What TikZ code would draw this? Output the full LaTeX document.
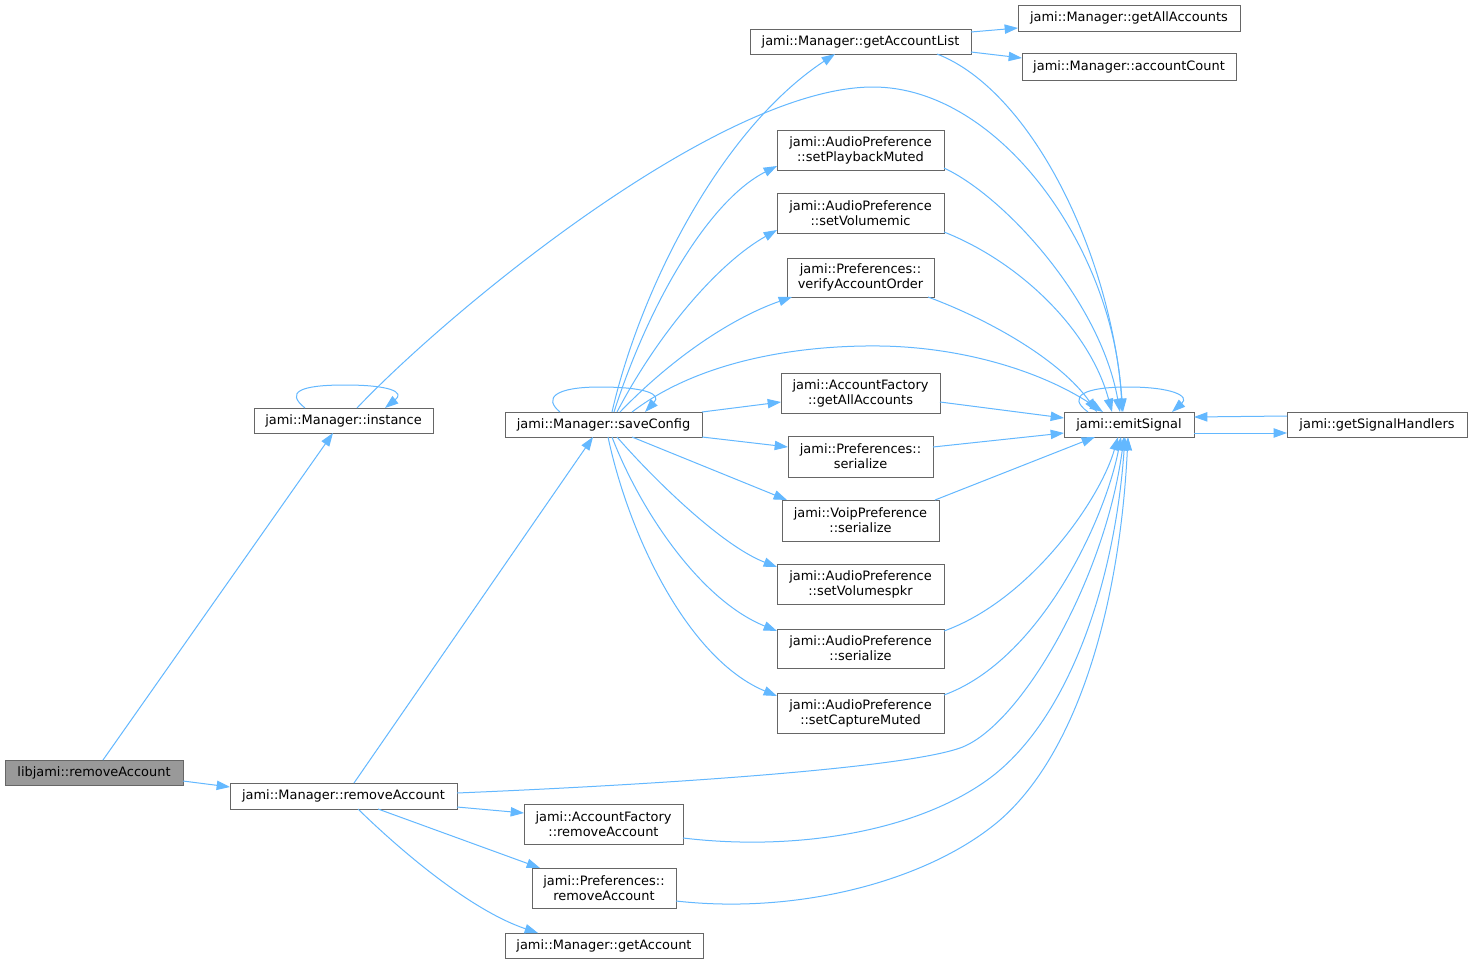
\documentclass[tikz,border=0pt]{standalone}
\usepackage{fontspec}
\setmainfont{DejaVu Sans}
\usetikzlibrary{arrows.meta}
\definecolor{edgec}{HTML}{63B8FF}
\definecolor{bordc}{HTML}{666666}
\definecolor{rootc}{HTML}{999999}
\begin{document}
\begin{tikzpicture}[x=0.75pt,y=-0.75pt,
  nd/.style={draw=bordc, line width=0.75pt, fill=white, inner sep=0pt, outer sep=0pt,
    font=\fontsize{9.7}{11.2}\selectfont, align=center},
  bx/.style 2 args={minimum width=#1*0.75pt, minimum height=#2*0.75pt},
  root/.style={nd, fill=rootc},
  ed/.style={draw=edgec, line width=0.75pt, -{Triangle[length=10pt,width=7pt]}}]
\fill[white] (0,0) rectangle (1472,964);
\useasboundingbox (0,0) rectangle (1472,964);
% nodes
\node[root, bx={178}{25}] (lib) at (94,772.5) {libjami::removeAccount};
\node[nd, bx={227}{26}] (mrem) at (343.5,796) {jami::Manager::removeAccount};
\node[nd, bx={179}{25}] (inst) at (343.5,420.5) {jami::Manager::instance};
\node[nd, bx={197}{25}] (save) at (603.5,424.5) {jami::Manager::saveConfig};
\node[nd, bx={221}{25}] (gal) at (860.5,41.5) {jami::Manager::getAccountList};
\node[nd, bx={222}{26}] (gaa) at (1129,18) {jami::Manager::getAllAccounts};
\node[nd, bx={214}{27}] (acnt) at (1129,66.5) {jami::Manager::accountCount};
\node[nd, bx={167}{40}] (spm) at (860.5,150) {jami::AudioPreference\\::setPlaybackMuted};
\node[nd, bx={167}{40}] (svm) at (860.5,213) {jami::AudioPreference\\::setVolumemic};
\node[nd, bx={147}{39}] (vao) at (860.5,277.5) {jami::Preferences::\\verifyAccountOrder};
\node[nd, bx={159}{40}] (afga) at (860.5,393) {jami::AccountFactory\\::getAllAccounts};
\node[nd, bx={145}{41}] (pser) at (860.5,456.5) {jami::Preferences::\\serialize};
\node[nd, bx={157}{41}] (vser) at (860.5,520.5) {jami::VoipPreference\\::serialize};
\node[nd, bx={167}{40}] (svs) at (860.5,584) {jami::AudioPreference\\::setVolumespkr};
\node[nd, bx={167}{39}] (apser) at (860.5,648.5) {jami::AudioPreference\\::serialize};
\node[nd, bx={167}{40}] (scm) at (860.5,713) {jami::AudioPreference\\::setCaptureMuted};
\node[nd, bx={130}{25}] (emit) at (1129,424.5) {jami::emitSignal};
\node[nd, bx={180}{25}] (gsh) at (1377,424.5) {jami::getSignalHandlers};
\node[nd, bx={159}{40}] (afrem) at (603.5,824) {jami::AccountFactory\\::removeAccount};
\node[nd, bx={144}{40}] (prem) at (604,888) {jami::Preferences::\\removeAccount};
\node[nd, bx={198}{25}] (gacc) at (604,945.5) {jami::Manager::getAccount};
% edges
\draw[ed] (103,0 |- lib.north) -- (333,0 |- inst.south);
\draw[ed] (lib.east |- 0,781) -- (mrem.west |- 0,787);
\draw[ed] (305,0 |- inst.north) .. controls (285,392) and (300,385) .. (345,385) .. controls (390,385) and (405,392) .. (385,0 |- inst.north);
\draw[ed] (357,0 |- inst.north) .. controls (450,310) and (720,87) .. (873,87) .. controls (1000,87) and (1115,250) .. (1122,0 |- emit.north);
\draw[ed] (560,0 |- save.north) .. controls (543,398) and (555,387) .. (600,387) .. controls (645,387) and (662,394) .. (645,0 |- save.north);
\draw[ed] (612,0 |- save.north) .. controls (640,290) and (720,130) .. (835,0 |- gal.south);
\draw[ed] (614,0 |- save.north) .. controls (650,300) and (710,200) .. (spm.west |- 0,166);
\draw[ed] (617,0 |- save.north) .. controls (660,330) and (720,262) .. (svm.west |- 0,230);
\draw[ed] (620,0 |- save.north) .. controls (680,350) and (740,315) .. (792,0 |- vao.south);
\draw[ed] (632,0 |- save.north) .. controls (700,360) and (800,345) .. (880,346) .. controls (960,347) and (1040,370) .. (1103,0 |- emit.north);
\draw[ed] (save.north east) -- (afga.west |- 0,402);
\draw[ed] (save.south east) -- (pser.west |- 0,447);
\draw[ed] (632,0 |- save.south) -- (787,0 |- vser.north);
\draw[ed] (617,0 |- save.south) .. controls (650,475) and (720,545) .. (svs.west |- 0,567);
\draw[ed] (612,0 |- save.south) .. controls (640,510) and (700,600) .. (apser.west |- 0,631);
\draw[ed] (608,0 |- save.south) .. controls (630,540) and (690,660) .. (scm.west |- 0,696);
\draw[ed] (354,0 |- mrem.north) -- (593,0 |- save.south);
\draw[ed] (mrem.east |- 0,793) .. controls (650,785) and (900,769) .. (960,748) .. controls (1020,727) and (1105,580) .. (1124,0 |- emit.south);
\draw[ed] (mrem.east |- 0,807) -- (afrem.west |- 0,813);
\draw[ed] (378,0 |- mrem.south) -- (540,0 |- prem.north);
\draw[ed] (358,0 |- mrem.south) .. controls (400,850) and (470,910) .. (538,0 |- gacc.north);
\draw[ed] (gal.east |- 0,32) -- (gaa.west |- 0,28);
\draw[ed] (gal.east |- 0,52) -- (acnt.west |- 0,58);
\draw[ed] (937,0 |- gal.south) .. controls (1030,90) and (1110,250) .. (1123,0 |- emit.north);
\draw[ed] (spm.east |- 0,168) .. controls (1004,196) and (1100,300) .. (1120,0 |- emit.north);
\draw[ed] (svm.east |- 0,232) .. controls (1020,262) and (1090,330) .. (1112,0 |- emit.north);
\draw[ed] (928,0 |- vao.south) .. controls (990,320) and (1060,360) .. (1097,0 |- emit.north);
\draw[ed] (afga.east |- 0,402) -- (emit.west |- 0,418);
\draw[ed] (pser.east |- 0,447) -- (emit.west |- 0,433);
\draw[ed] (935,0 |- vser.north) -- (1095,0 |- emit.south);
\draw[ed] (apser.east |- 0,631) .. controls (1030,600) and (1100,500) .. (1118,0 |- emit.south);
\draw[ed] (scm.east |- 0,695) .. controls (1040,660) and (1105,520) .. (1121,0 |- emit.south);
\draw[ed] (afrem.east |- 0,838) .. controls (800,852) and (920,830) .. (990,778) .. controls (1070,718) and (1115,580) .. (1125,0 |- emit.south);
\draw[ed] (prem.east |- 0,901) .. controls (800,915) and (930,880) .. (1000,820) .. controls (1080,750) and (1120,600) .. (1128,0 |- emit.south);
\draw[ed] (1088,0 |- emit.north) .. controls (1066,396) and (1085,387) .. (1128,387) .. controls (1172,387) and (1190,396) .. (1172,0 |- emit.north);
\draw[ed] (emit.east |- 0,433) -- (gsh.west |- 0,433);
\draw[ed] (gsh.west |- 0,416) -- (emit.east |- 0,417);
\end{tikzpicture}
\end{document}
